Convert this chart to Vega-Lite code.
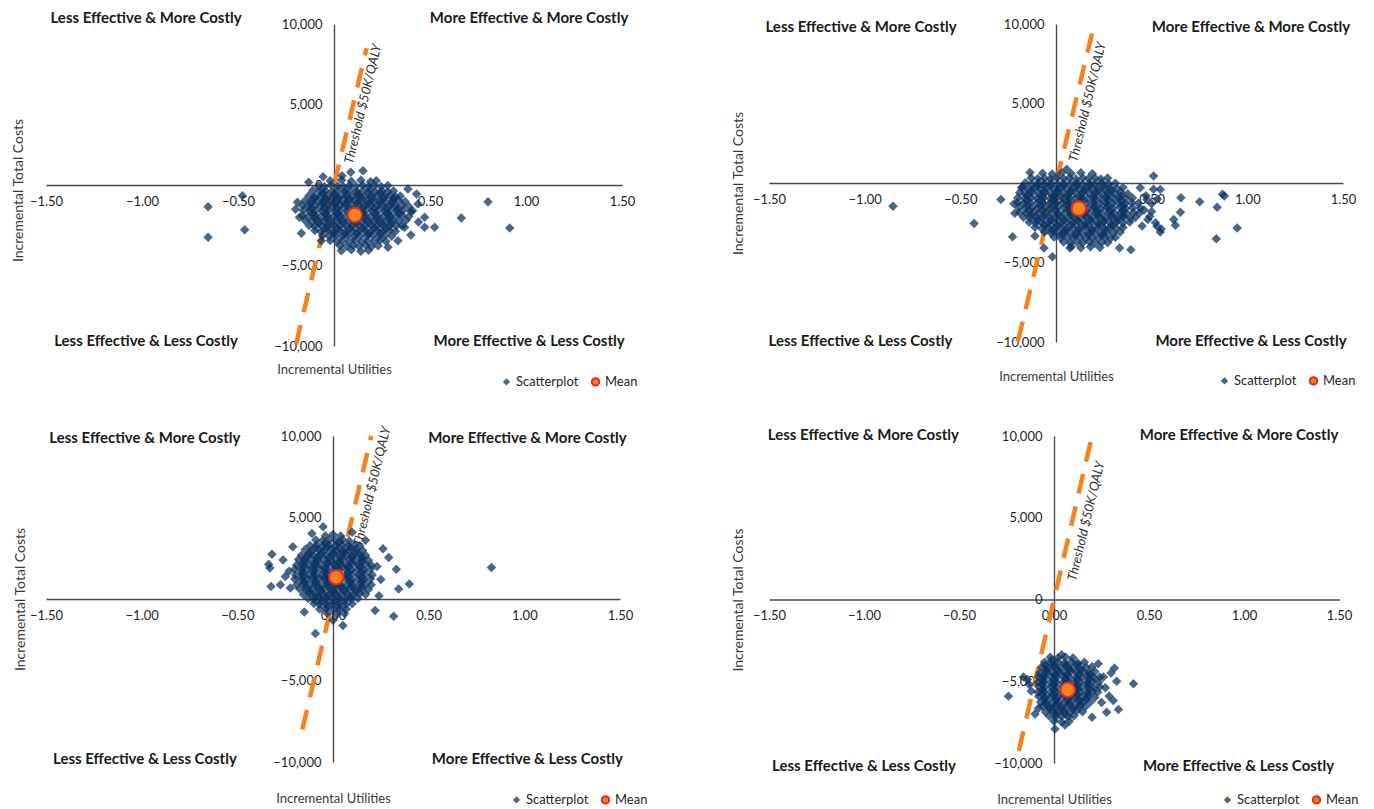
{
"$schema":"https://vega.github.io/schema/vega-lite/v6.json",
"background":"white",
"padding":{"left":11,"top":10,"right":5,"bottom":5},
"config":{
 "view":{"stroke":null},
 "axis":{"labelFont":"Lato","labelFontSize":13,"labelColor":"#1f1f1f","titleFont":"Lato","titleFontSize":13,"titleFontWeight":"normal","titleColor":"#3a3a3a","ticks":false,"grid":false,"domainColor":"#4a4a4a","domainWidth":1.4,"labelFlush":false,"labelOverlap":false,"labelBound":false},
 "legend":{"orient":"none","direction":"horizontal","labelFont":"Lato","labelFontSize":13,"labelColor":"#1f1f1f","symbolStrokeWidth":2,"columnPadding":8,"padding":0,"labelOffset":3,"symbolSize":55}
},
"datasets":{
"s1":[
{"u":-0.02,"c":260},{"u":0.04,"c":310},{"u":0.09,"c":230},{"u":0.14,"c":290},{"u":0.19,"c":200},
{"u":-0.08,"c":-40},{"u":-0.05,"c":-90},{"u":-0.015,"c":-20},{"u":0.02,"c":-70},{"u":0.05,"c":-110},{"u":0.08,"c":-30},{"u":0.115,"c":-80},{"u":0.15,"c":-10},{"u":0.18,"c":-100},{"u":0.21,"c":-50},{"u":0.245,"c":-90},{"u":0.28,"c":-30},
{"u":-0.11,"c":-330},{"u":-0.075,"c":-400},{"u":-0.045,"c":-350},{"u":-0.01,"c":-420},{"u":0.02,"c":-340},{"u":0.055,"c":-390},{"u":0.085,"c":-310},{"u":0.12,"c":-410},{"u":0.15,"c":-360},{"u":0.185,"c":-330},{"u":0.215,"c":-400},{"u":0.25,"c":-350},{"u":0.28,"c":-420},{"u":0.31,"c":-370},
{"u":-0.13,"c":-650},{"u":-0.1,"c":-720},{"u":-0.065,"c":-660},{"u":-0.035,"c":-700},{"u":0,"c":-640},{"u":0.03,"c":-730},{"u":0.065,"c":-670},{"u":0.095,"c":-700},{"u":0.13,"c":-640},{"u":0.16,"c":-720},{"u":0.195,"c":-690},{"u":0.225,"c":-650},{"u":0.26,"c":-710},{"u":0.29,"c":-660},{"u":0.32,"c":-730},{"u":0.345,"c":-680},
{"u":-0.15,"c":-960},{"u":-0.12,"c":-1030},{"u":-0.085,"c":-970},{"u":-0.055,"c":-1010},{"u":-0.02,"c":-950},{"u":0.01,"c":-1040},{"u":0.045,"c":-980},{"u":0.075,"c":-1000},{"u":0.11,"c":-950},{"u":0.14,"c":-1030},{"u":0.175,"c":-970},{"u":0.205,"c":-1010},{"u":0.24,"c":-960},{"u":0.27,"c":-1040},{"u":0.305,"c":-990},{"u":0.335,"c":-950},{"u":0.37,"c":-1020},
{"u":-0.165,"c":-1270},{"u":-0.135,"c":-1330},{"u":-0.1,"c":-1280},{"u":-0.07,"c":-1320},{"u":-0.035,"c":-1260},{"u":-0.005,"c":-1340},{"u":0.03,"c":-1290},{"u":0.06,"c":-1310},{"u":0.095,"c":-1260},{"u":0.125,"c":-1340},{"u":0.16,"c":-1280},{"u":0.19,"c":-1320},{"u":0.225,"c":-1270},{"u":0.255,"c":-1330},{"u":0.29,"c":-1290},{"u":0.32,"c":-1310},{"u":0.355,"c":-1260},{"u":0.39,"c":-1330},
{"u":-0.16,"c":-1580},{"u":-0.125,"c":-1640},{"u":-0.095,"c":-1590},{"u":-0.06,"c":-1630},{"u":-0.03,"c":-1570},{"u":0.005,"c":-1650},{"u":0.035,"c":-1600},{"u":0.07,"c":-1620},{"u":0.1,"c":-1570},{"u":0.135,"c":-1650},{"u":0.165,"c":-1590},{"u":0.2,"c":-1630},{"u":0.23,"c":-1580},{"u":0.265,"c":-1640},{"u":0.295,"c":-1600},{"u":0.33,"c":-1620},{"u":0.36,"c":-1570},{"u":0.4,"c":-1640},
{"u":-0.165,"c":-1890},{"u":-0.135,"c":-1950},{"u":-0.1,"c":-1900},{"u":-0.07,"c":-1940},{"u":-0.035,"c":-1880},{"u":-0.005,"c":-1960},{"u":0.03,"c":-1910},{"u":0.06,"c":-1930},{"u":0.095,"c":-1880},{"u":0.125,"c":-1960},{"u":0.16,"c":-1900},{"u":0.19,"c":-1940},{"u":0.225,"c":-1890},{"u":0.255,"c":-1950},{"u":0.29,"c":-1910},{"u":0.32,"c":-1930},{"u":0.355,"c":-1880},{"u":0.39,"c":-1950},
{"u":-0.15,"c":-2200},{"u":-0.115,"c":-2260},{"u":-0.085,"c":-2210},{"u":-0.05,"c":-2250},{"u":-0.02,"c":-2190},{"u":0.015,"c":-2270},{"u":0.045,"c":-2220},{"u":0.08,"c":-2240},{"u":0.11,"c":-2190},{"u":0.145,"c":-2270},{"u":0.175,"c":-2210},{"u":0.21,"c":-2250},{"u":0.24,"c":-2200},{"u":0.275,"c":-2260},{"u":0.305,"c":-2220},{"u":0.34,"c":-2240},{"u":0.375,"c":-2190},
{"u":-0.13,"c":-2510},{"u":-0.1,"c":-2570},{"u":-0.065,"c":-2520},{"u":-0.035,"c":-2560},{"u":0,"c":-2500},{"u":0.03,"c":-2580},{"u":0.065,"c":-2530},{"u":0.095,"c":-2550},{"u":0.13,"c":-2500},{"u":0.16,"c":-2580},{"u":0.195,"c":-2520},{"u":0.225,"c":-2560},{"u":0.26,"c":-2510},{"u":0.29,"c":-2570},{"u":0.325,"c":-2530},{"u":0.355,"c":-2550},
{"u":-0.1,"c":-2820},{"u":-0.07,"c":-2880},{"u":-0.035,"c":-2830},{"u":-0.005,"c":-2870},{"u":0.03,"c":-2810},{"u":0.06,"c":-2890},{"u":0.095,"c":-2840},{"u":0.125,"c":-2860},{"u":0.16,"c":-2810},{"u":0.19,"c":-2890},{"u":0.225,"c":-2830},{"u":0.255,"c":-2870},{"u":0.29,"c":-2820},{"u":0.32,"c":-2880},
{"u":-0.06,"c":-3130},{"u":-0.025,"c":-3190},{"u":0.005,"c":-3140},{"u":0.04,"c":-3180},{"u":0.07,"c":-3120},{"u":0.105,"c":-3200},{"u":0.135,"c":-3150},{"u":0.17,"c":-3170},{"u":0.2,"c":-3120},{"u":0.235,"c":-3200},{"u":0.265,"c":-3140},{"u":0.3,"c":-3180},
{"u":-0.02,"c":-3440},{"u":0.015,"c":-3500},{"u":0.045,"c":-3450},{"u":0.08,"c":-3490},{"u":0.11,"c":-3430},{"u":0.145,"c":-3510},{"u":0.175,"c":-3460},{"u":0.21,"c":-3480},{"u":0.24,"c":-3430},{"u":0.27,"c":-3500},
{"u":0.03,"c":-3750},{"u":0.065,"c":-3810},{"u":0.1,"c":-3760},{"u":0.13,"c":-3800},{"u":0.165,"c":-3740},{"u":0.195,"c":-3820},{"u":0.23,"c":-3770},
{"u":0.09,"c":-4020},{"u":0.14,"c":-4120},{"u":0.18,"c":-4060},
{"u":-0.06,"c":-510},{"u":0,"c":-540},{"u":0.06,"c":-500},{"u":0.12,"c":-550},{"u":0.18,"c":-520},{"u":0.24,"c":-490},
{"u":-0.1,"c":-820},{"u":-0.04,"c":-860},{"u":0.02,"c":-800},{"u":0.08,"c":-850},{"u":0.14,"c":-810},{"u":0.2,"c":-870},{"u":0.26,"c":-820},{"u":0.31,"c":-840},
{"u":-0.12,"c":-1130},{"u":-0.06,"c":-1170},{"u":0,"c":-1120},{"u":0.06,"c":-1160},{"u":0.12,"c":-1110},{"u":0.18,"c":-1150},{"u":0.24,"c":-1130},{"u":0.3,"c":-1170},
{"u":-0.12,"c":-1440},{"u":-0.05,"c":-1480},{"u":0.015,"c":-1430},{"u":0.08,"c":-1470},{"u":0.15,"c":-1420},{"u":0.21,"c":-1460},{"u":0.27,"c":-1440},{"u":0.33,"c":-1480},
{"u":-0.11,"c":-1760},{"u":-0.045,"c":-1790},{"u":0.02,"c":-1750},{"u":0.085,"c":-1800},{"u":0.15,"c":-1740},{"u":0.215,"c":-1780},{"u":0.28,"c":-1760},{"u":0.34,"c":-1790},
{"u":-0.1,"c":-2070},{"u":-0.04,"c":-2110},{"u":0.025,"c":-2060},{"u":0.09,"c":-2100},{"u":0.155,"c":-2050},{"u":0.22,"c":-2090},{"u":0.285,"c":-2070},
{"u":-0.08,"c":-2380},{"u":-0.015,"c":-2420},{"u":0.05,"c":-2370},{"u":0.115,"c":-2410},{"u":0.18,"c":-2360},{"u":0.245,"c":-2400},{"u":0.3,"c":-2380},
{"u":-0.04,"c":-2690},{"u":0.02,"c":-2730},{"u":0.085,"c":-2680},{"u":0.15,"c":-2720},{"u":0.21,"c":-2670},{"u":0.27,"c":-2710},
{"u":0,"c":-3000},{"u":0.06,"c":-3040},{"u":0.12,"c":-2990},{"u":0.18,"c":-3030},{"u":0.24,"c":-3000},
{"u":-0.656,"c":-1346},{"u":-0.656,"c":-3250},{"u":-0.477,"c":-663},{"u":-0.465,"c":-2774},{"u":0.802,"c":-1035},{"u":0.915,"c":-2670},{"u":0.663,"c":-2050},{"u":0.524,"c":-2630},{"u":0.472,"c":-2630},{"u":0.151,"c":890},{"u":0.087,"c":787},{"u":-0.057,"c":518},{"u":-0.132,"c":166},{"u":0.042,"c":580},{"u":0.22,"c":270},{"u":-0.19,"c":-1077},{"u":-0.18,"c":-2008},{"u":-0.17,"c":-3000},{"u":0.038,"c":-4079},{"u":0.281,"c":-3872},{"u":0.333,"c":-3457},{"u":-0.066,"c":-3457},{"u":0.385,"c":-248},{"u":0.4375,"c":-1180},{"u":0.472,"c":-2008},{"u":0.368,"c":-2630},{"u":0.43,"c":-560},{"u":0.41,"c":-1600},{"u":0.44,"c":-2300},{"u":-0.2,"c":-1500},{"u":0.4,"c":-3100}
],
"s2":[
{"u":-0.07,"c":620},{"u":-0.02,"c":560},{"u":0.03,"c":640},{"u":0.08,"c":580},{"u":0.13,"c":650},{"u":0.19,"c":590},
{"u":-0.13,"c":320},{"u":-0.095,"c":260},{"u":-0.06,"c":300},{"u":-0.03,"c":250},{"u":0.005,"c":330},{"u":0.04,"c":270},{"u":0.07,"c":310},{"u":0.105,"c":240},{"u":0.14,"c":320},{"u":0.17,"c":280},{"u":0.205,"c":300},{"u":0.235,"c":250},{"u":0.27,"c":320},
{"u":-0.16,"c":10},{"u":-0.125,"c":-50},{"u":-0.09,"c":0},{"u":-0.06,"c":-40},{"u":-0.025,"c":20},{"u":0.01,"c":-60},{"u":0.04,"c":-10},{"u":0.075,"c":-30},{"u":0.11,"c":20},{"u":0.14,"c":-60},{"u":0.175,"c":0},{"u":0.205,"c":-40},{"u":0.24,"c":10},{"u":0.275,"c":-50},{"u":0.31,"c":-20},
{"u":-0.18,"c":-300},{"u":-0.145,"c":-360},{"u":-0.11,"c":-310},{"u":-0.08,"c":-350},{"u":-0.045,"c":-290},{"u":-0.01,"c":-370},{"u":0.02,"c":-320},{"u":0.055,"c":-340},{"u":0.09,"c":-290},{"u":0.12,"c":-370},{"u":0.155,"c":-310},{"u":0.185,"c":-350},{"u":0.22,"c":-300},{"u":0.255,"c":-360},{"u":0.285,"c":-320},{"u":0.32,"c":-340},{"u":0.35,"c":-290},
{"u":-0.19,"c":-610},{"u":-0.16,"c":-670},{"u":-0.125,"c":-620},{"u":-0.09,"c":-660},{"u":-0.06,"c":-600},{"u":-0.025,"c":-680},{"u":0.01,"c":-630},{"u":0.04,"c":-650},{"u":0.075,"c":-600},{"u":0.105,"c":-680},{"u":0.14,"c":-620},{"u":0.175,"c":-660},{"u":0.205,"c":-610},{"u":0.24,"c":-670},{"u":0.27,"c":-630},{"u":0.305,"c":-650},{"u":0.34,"c":-600},{"u":0.375,"c":-670},
{"u":-0.2,"c":-920},{"u":-0.165,"c":-980},{"u":-0.13,"c":-930},{"u":-0.1,"c":-970},{"u":-0.065,"c":-910},{"u":-0.03,"c":-990},{"u":0,"c":-940},{"u":0.035,"c":-960},{"u":0.07,"c":-910},{"u":0.1,"c":-990},{"u":0.135,"c":-930},{"u":0.165,"c":-970},{"u":0.2,"c":-920},{"u":0.235,"c":-980},{"u":0.265,"c":-940},{"u":0.3,"c":-960},{"u":0.33,"c":-910},{"u":0.365,"c":-990},{"u":0.4,"c":-940},
{"u":-0.2,"c":-1230},{"u":-0.17,"c":-1290},{"u":-0.135,"c":-1240},{"u":-0.1,"c":-1280},{"u":-0.07,"c":-1220},{"u":-0.035,"c":-1300},{"u":0,"c":-1250},{"u":0.03,"c":-1270},{"u":0.065,"c":-1220},{"u":0.095,"c":-1300},{"u":0.13,"c":-1240},{"u":0.16,"c":-1280},{"u":0.195,"c":-1230},{"u":0.23,"c":-1290},{"u":0.26,"c":-1250},{"u":0.295,"c":-1270},{"u":0.325,"c":-1220},{"u":0.36,"c":-1300},{"u":0.395,"c":-1240},{"u":0.43,"c":-1280},
{"u":-0.195,"c":-1540},{"u":-0.16,"c":-1600},{"u":-0.125,"c":-1550},{"u":-0.095,"c":-1590},{"u":-0.06,"c":-1530},{"u":-0.03,"c":-1610},{"u":0.005,"c":-1560},{"u":0.04,"c":-1580},{"u":0.07,"c":-1530},{"u":0.105,"c":-1610},{"u":0.135,"c":-1550},{"u":0.17,"c":-1590},{"u":0.2,"c":-1540},{"u":0.235,"c":-1600},{"u":0.265,"c":-1560},{"u":0.3,"c":-1580},{"u":0.335,"c":-1530},{"u":0.365,"c":-1610},{"u":0.4,"c":-1550},{"u":0.44,"c":-1590},
{"u":-0.19,"c":-1850},{"u":-0.155,"c":-1910},{"u":-0.12,"c":-1860},{"u":-0.09,"c":-1900},{"u":-0.055,"c":-1840},{"u":-0.02,"c":-1920},{"u":0.01,"c":-1870},{"u":0.045,"c":-1890},{"u":0.075,"c":-1840},{"u":0.11,"c":-1920},{"u":0.14,"c":-1860},{"u":0.175,"c":-1900},{"u":0.21,"c":-1850},{"u":0.24,"c":-1910},{"u":0.275,"c":-1870},{"u":0.305,"c":-1890},{"u":0.34,"c":-1840},{"u":0.37,"c":-1920},{"u":0.405,"c":-1860},{"u":0.435,"c":-1900},
{"u":-0.17,"c":-2160},{"u":-0.135,"c":-2220},{"u":-0.1,"c":-2170},{"u":-0.07,"c":-2210},{"u":-0.035,"c":-2150},{"u":0,"c":-2230},{"u":0.03,"c":-2180},{"u":0.065,"c":-2200},{"u":0.095,"c":-2150},{"u":0.13,"c":-2230},{"u":0.16,"c":-2170},{"u":0.195,"c":-2210},{"u":0.225,"c":-2160},{"u":0.26,"c":-2220},{"u":0.29,"c":-2180},{"u":0.325,"c":-2200},{"u":0.355,"c":-2150},{"u":0.39,"c":-2230},{"u":0.415,"c":-2170},
{"u":-0.14,"c":-2470},{"u":-0.105,"c":-2530},{"u":-0.075,"c":-2480},{"u":-0.04,"c":-2520},{"u":-0.01,"c":-2460},{"u":0.025,"c":-2540},{"u":0.055,"c":-2490},{"u":0.09,"c":-2510},{"u":0.12,"c":-2460},{"u":0.155,"c":-2540},{"u":0.185,"c":-2480},{"u":0.22,"c":-2520},{"u":0.25,"c":-2470},{"u":0.285,"c":-2530},{"u":0.315,"c":-2490},{"u":0.35,"c":-2510},{"u":0.385,"c":-2460},
{"u":-0.11,"c":-2780},{"u":-0.075,"c":-2840},{"u":-0.04,"c":-2790},{"u":-0.01,"c":-2830},{"u":0.025,"c":-2770},{"u":0.055,"c":-2850},{"u":0.09,"c":-2800},{"u":0.12,"c":-2820},{"u":0.155,"c":-2770},{"u":0.185,"c":-2850},{"u":0.22,"c":-2790},{"u":0.25,"c":-2830},{"u":0.285,"c":-2780},{"u":0.315,"c":-2840},{"u":0.35,"c":-2800},
{"u":-0.06,"c":-3090},{"u":-0.025,"c":-3150},{"u":0.005,"c":-3100},{"u":0.04,"c":-3140},{"u":0.07,"c":-3080},{"u":0.105,"c":-3160},{"u":0.135,"c":-3110},{"u":0.17,"c":-3130},{"u":0.2,"c":-3080},{"u":0.235,"c":-3160},{"u":0.265,"c":-3100},{"u":0.3,"c":-3140},{"u":0.335,"c":-3090},
{"u":-0.01,"c":-3400},{"u":0.025,"c":-3460},{"u":0.06,"c":-3410},{"u":0.09,"c":-3450},{"u":0.125,"c":-3390},{"u":0.155,"c":-3470},{"u":0.19,"c":-3420},{"u":0.22,"c":-3440},{"u":0.255,"c":-3390},{"u":0.285,"c":-3470},{"u":0.31,"c":-3420},
{"u":0.04,"c":-3710},{"u":0.075,"c":-3770},{"u":0.11,"c":-3720},{"u":0.14,"c":-3760},{"u":0.175,"c":-3700},{"u":0.205,"c":-3780},{"u":0.24,"c":-3730},{"u":0.27,"c":-3750},
{"u":0.08,"c":-3990},{"u":0.13,"c":-4080},{"u":0.18,"c":-4010},{"u":0.23,"c":-4060},
{"u":-0.1,"c":-160},{"u":-0.03,"c":-190},{"u":0.04,"c":-150},{"u":0.11,"c":-180},{"u":0.18,"c":-140},{"u":0.25,"c":-170},
{"u":-0.13,"c":-470},{"u":-0.06,"c":-500},{"u":0.01,"c":-460},{"u":0.08,"c":-490},{"u":0.15,"c":-450},{"u":0.22,"c":-480},{"u":0.29,"c":-470},
{"u":-0.15,"c":-780},{"u":-0.08,"c":-810},{"u":-0.01,"c":-770},{"u":0.06,"c":-800},{"u":0.13,"c":-760},{"u":0.2,"c":-790},{"u":0.27,"c":-780},{"u":0.34,"c":-810},
{"u":-0.15,"c":-1090},{"u":-0.08,"c":-1120},{"u":-0.01,"c":-1080},{"u":0.06,"c":-1110},{"u":0.13,"c":-1070},{"u":0.2,"c":-1100},{"u":0.27,"c":-1090},{"u":0.34,"c":-1120},
{"u":-0.15,"c":-1400},{"u":-0.08,"c":-1430},{"u":-0.01,"c":-1390},{"u":0.06,"c":-1420},{"u":0.13,"c":-1380},{"u":0.2,"c":-1410},{"u":0.27,"c":-1400},{"u":0.35,"c":-1430},
{"u":-0.14,"c":-1710},{"u":-0.07,"c":-1740},{"u":0,"c":-1700},{"u":0.07,"c":-1730},{"u":0.14,"c":-1690},{"u":0.21,"c":-1720},{"u":0.28,"c":-1710},{"u":0.35,"c":-1740},
{"u":-0.13,"c":-2020},{"u":-0.06,"c":-2050},{"u":0.01,"c":-2010},{"u":0.08,"c":-2040},{"u":0.15,"c":-2000},{"u":0.22,"c":-2030},{"u":0.29,"c":-2020},{"u":0.35,"c":-2050},
{"u":-0.1,"c":-2330},{"u":-0.03,"c":-2360},{"u":0.04,"c":-2320},{"u":0.11,"c":-2350},{"u":0.18,"c":-2310},{"u":0.25,"c":-2340},{"u":0.32,"c":-2330},
{"u":-0.06,"c":-2640},{"u":0.01,"c":-2670},{"u":0.08,"c":-2630},{"u":0.15,"c":-2660},{"u":0.22,"c":-2620},{"u":0.29,"c":-2650},
{"u":-0.02,"c":-2950},{"u":0.05,"c":-2980},{"u":0.12,"c":-2940},{"u":0.19,"c":-2970},{"u":0.26,"c":-2950},
{"u":0.03,"c":-3260},{"u":0.1,"c":-3290},{"u":0.17,"c":-3250},{"u":0.24,"c":-3280},
{"u":0.44,"c":-300},{"u":0.47,"c":-800},{"u":0.5,"c":-1300},{"u":0.46,"c":-1700},{"u":0.49,"c":-2100},{"u":0.52,"c":-2500},{"u":0.45,"c":-2700},{"u":0.55,"c":-2900},{"u":0.51,"c":-400},{"u":0.53,"c":-1000},{"u":0.5,"c":-1800},{"u":0.48,"c":-2300},
{"u":-0.852,"c":-1456},{"u":-0.428,"c":-2553},{"u":-0.288,"c":-1034},{"u":-0.227,"c":-3376},{"u":-0.11,"c":-3333},{"u":-0.063,"c":-4093},{"u":-0.019,"c":-4641},{"u":-0.136,"c":654},{"u":-0.175,"c":-253},{"u":0.056,"c":865},{"u":0.51,"c":443},{"u":0.391,"c":-4198},{"u":0.653,"c":-928},{"u":0.751,"c":-1181},{"u":0.842,"c":-1519},{"u":0.88,"c":-823},{"u":0.947,"c":-2827},{"u":0.838,"c":-3502},{"u":0.65,"c":-1835},{"u":0.615,"c":-2300},{"u":0.624,"c":-2658},{"u":0.545,"c":-3080},{"u":0.528,"c":-2721},{"u":0.475,"c":-1034},{"u":0.545,"c":-401},{"u":0.332,"c":-4093},{"u":0.073,"c":-4093},{"u":0.87,"c":-700},{"u":-0.22,"c":-1300},{"u":-0.215,"c":-1900}
],
"s3":[
{"u":-0.04,"c":3880},{"u":0,"c":3950},{"u":0.04,"c":3870},
{"u":-0.09,"c":3620},{"u":-0.055,"c":3570},{"u":-0.02,"c":3640},{"u":0.015,"c":3580},{"u":0.05,"c":3630},{"u":0.085,"c":3560},
{"u":-0.12,"c":3280},{"u":-0.085,"c":3330},{"u":-0.05,"c":3270},{"u":-0.02,"c":3320},{"u":0.015,"c":3260},{"u":0.05,"c":3340},{"u":0.08,"c":3290},{"u":0.115,"c":3310},{"u":0.14,"c":3260},
{"u":-0.145,"c":3030},{"u":-0.11,"c":2970},{"u":-0.075,"c":3020},{"u":-0.045,"c":2980},{"u":-0.01,"c":3040},{"u":0.02,"c":2960},{"u":0.055,"c":3010},{"u":0.09,"c":2990},{"u":0.12,"c":3040},{"u":0.155,"c":2970},
{"u":-0.165,"c":2680},{"u":-0.13,"c":2730},{"u":-0.1,"c":2670},{"u":-0.065,"c":2720},{"u":-0.03,"c":2660},{"u":0,"c":2740},{"u":0.035,"c":2690},{"u":0.07,"c":2710},{"u":0.1,"c":2660},{"u":0.135,"c":2740},{"u":0.17,"c":2680},
{"u":-0.18,"c":2430},{"u":-0.15,"c":2370},{"u":-0.115,"c":2420},{"u":-0.08,"c":2380},{"u":-0.05,"c":2440},{"u":-0.015,"c":2360},{"u":0.015,"c":2410},{"u":0.05,"c":2390},{"u":0.085,"c":2440},{"u":0.115,"c":2360},{"u":0.15,"c":2420},{"u":0.185,"c":2380},
{"u":-0.19,"c":2080},{"u":-0.16,"c":2130},{"u":-0.125,"c":2070},{"u":-0.095,"c":2120},{"u":-0.06,"c":2060},{"u":-0.025,"c":2140},{"u":0.005,"c":2090},{"u":0.04,"c":2110},{"u":0.07,"c":2060},{"u":0.105,"c":2140},{"u":0.135,"c":2080},{"u":0.17,"c":2120},{"u":0.2,"c":2070},
{"u":-0.2,"c":1830},{"u":-0.165,"c":1770},{"u":-0.135,"c":1820},{"u":-0.1,"c":1780},{"u":-0.07,"c":1840},{"u":-0.035,"c":1760},{"u":0,"c":1810},{"u":0.03,"c":1790},{"u":0.065,"c":1840},{"u":0.095,"c":1760},{"u":0.13,"c":1820},{"u":0.16,"c":1780},{"u":0.195,"c":1830},
{"u":-0.195,"c":1480},{"u":-0.16,"c":1530},{"u":-0.125,"c":1470},{"u":-0.095,"c":1520},{"u":-0.06,"c":1460},{"u":-0.03,"c":1540},{"u":0.005,"c":1490},{"u":0.04,"c":1510},{"u":0.07,"c":1460},{"u":0.105,"c":1540},{"u":0.135,"c":1480},{"u":0.17,"c":1520},{"u":0.205,"c":1470},
{"u":-0.2,"c":1230},{"u":-0.165,"c":1170},{"u":-0.135,"c":1220},{"u":-0.1,"c":1180},{"u":-0.07,"c":1240},{"u":-0.035,"c":1160},{"u":0,"c":1210},{"u":0.03,"c":1190},{"u":0.065,"c":1240},{"u":0.095,"c":1160},{"u":0.13,"c":1220},{"u":0.16,"c":1180},{"u":0.195,"c":1230},
{"u":-0.19,"c":880},{"u":-0.155,"c":930},{"u":-0.12,"c":870},{"u":-0.09,"c":920},{"u":-0.055,"c":860},{"u":-0.025,"c":940},{"u":0.01,"c":890},{"u":0.04,"c":910},{"u":0.075,"c":860},{"u":0.105,"c":940},{"u":0.14,"c":880},{"u":0.17,"c":920},{"u":0.2,"c":870},
{"u":-0.175,"c":630},{"u":-0.14,"c":570},{"u":-0.11,"c":620},{"u":-0.075,"c":580},{"u":-0.045,"c":640},{"u":-0.01,"c":560},{"u":0.02,"c":610},{"u":0.055,"c":590},{"u":0.085,"c":640},{"u":0.12,"c":560},{"u":0.15,"c":620},{"u":0.185,"c":580},
{"u":-0.155,"c":280},{"u":-0.12,"c":330},{"u":-0.09,"c":270},{"u":-0.055,"c":320},{"u":-0.025,"c":260},{"u":0.01,"c":340},{"u":0.04,"c":290},{"u":0.075,"c":310},{"u":0.105,"c":260},{"u":0.14,"c":340},{"u":0.17,"c":280},
{"u":-0.13,"c":30},{"u":-0.1,"c":-30},{"u":-0.065,"c":20},{"u":-0.035,"c":-20},{"u":0,"c":40},{"u":0.03,"c":-40},{"u":0.065,"c":10},{"u":0.095,"c":-10},{"u":0.13,"c":30},
{"u":-0.1,"c":-280},{"u":-0.07,"c":-330},{"u":-0.035,"c":-270},{"u":0,"c":-320},{"u":0.03,"c":-260},{"u":0.065,"c":-340},{"u":0.1,"c":-290},
{"u":-0.07,"c":-620},{"u":-0.035,"c":-570},{"u":0,"c":-630},{"u":0.035,"c":-580},{"u":0.07,"c":-610},
{"u":-0.03,"c":-880},{"u":0.02,"c":-940},{"u":0.06,"c":-900},
{"u":-0.04,"c":3440},{"u":0.03,"c":3470},
{"u":-0.09,"c":3140},{"u":-0.03,"c":3170},{"u":0.03,"c":3130},{"u":0.09,"c":3160},
{"u":-0.12,"c":2840},{"u":-0.06,"c":2870},{"u":0,"c":2830},{"u":0.06,"c":2860},{"u":0.12,"c":2840},
{"u":-0.14,"c":2540},{"u":-0.08,"c":2570},{"u":-0.02,"c":2530},{"u":0.04,"c":2560},{"u":0.1,"c":2540},{"u":0.15,"c":2570},
{"u":-0.15,"c":2240},{"u":-0.09,"c":2270},{"u":-0.03,"c":2230},{"u":0.03,"c":2260},{"u":0.09,"c":2240},{"u":0.15,"c":2270},
{"u":-0.16,"c":1940},{"u":-0.1,"c":1970},{"u":-0.04,"c":1930},{"u":0.02,"c":1960},{"u":0.08,"c":1940},{"u":0.14,"c":1970},
{"u":-0.16,"c":1640},{"u":-0.1,"c":1670},{"u":-0.04,"c":1630},{"u":0.02,"c":1660},{"u":0.08,"c":1640},{"u":0.15,"c":1670},
{"u":-0.16,"c":1340},{"u":-0.1,"c":1370},{"u":-0.04,"c":1330},{"u":0.02,"c":1360},{"u":0.08,"c":1340},{"u":0.15,"c":1370},
{"u":-0.15,"c":1040},{"u":-0.09,"c":1070},{"u":-0.03,"c":1030},{"u":0.03,"c":1060},{"u":0.09,"c":1040},{"u":0.15,"c":1070},
{"u":-0.14,"c":740},{"u":-0.08,"c":770},{"u":-0.02,"c":730},{"u":0.04,"c":760},{"u":0.1,"c":740},{"u":0.15,"c":770},
{"u":-0.12,"c":440},{"u":-0.06,"c":470},{"u":0,"c":430},{"u":0.06,"c":460},{"u":0.12,"c":440},
{"u":-0.09,"c":140},{"u":-0.03,"c":170},{"u":0.03,"c":130},{"u":0.09,"c":160},
{"u":-0.06,"c":-140},{"u":0,"c":-170},{"u":0.06,"c":-130},
{"u":-0.03,"c":-440},{"u":0.03,"c":-470},
{"u":0.828,"c":1931},{"u":0.399,"c":915},{"u":0.343,"c":610},{"u":0.317,"c":-1057},{"u":0.331,"c":1829},{"u":0.291,"c":2541},{"u":0.261,"c":3089},{"u":-0.092,"c":-2114},{"u":0.052,"c":-1626},{"u":-0.15,"c":-793},{"u":-0.052,"c":4431},{"u":-0.11,"c":4024},{"u":-0.319,"c":2744},{"u":-0.336,"c":2134},{"u":-0.324,"c":772},{"u":-0.261,"c":2398},{"u":-0.249,"c":1382},{"u":-0.275,"c":874},{"u":-0.223,"c":671},{"u":0.22,"c":-700},{"u":0.24,"c":200},{"u":0.25,"c":1200},{"u":0.23,"c":2000},{"u":-0.23,"c":1700},{"u":-0.21,"c":3200},{"u":0.1,"c":4100},{"u":0.17,"c":3600},{"u":0,"c":-1300},{"u":-0.33,"c":1900}
],
"s4":[
{"u":-0.02,"c":-3530},{"u":0.02,"c":-3580},{"u":0.06,"c":-3520},{"u":0.1,"c":-3570},
{"u":-0.05,"c":-3830},{"u":-0.015,"c":-3880},{"u":0.02,"c":-3820},{"u":0.055,"c":-3870},{"u":0.09,"c":-3810},{"u":0.125,"c":-3890},{"u":0.16,"c":-3840},
{"u":-0.065,"c":-4130},{"u":-0.03,"c":-4180},{"u":0,"c":-4120},{"u":0.035,"c":-4170},{"u":0.07,"c":-4110},{"u":0.1,"c":-4190},{"u":0.135,"c":-4140},{"u":0.17,"c":-4160},{"u":0.2,"c":-4110},
{"u":-0.075,"c":-4480},{"u":-0.04,"c":-4420},{"u":-0.01,"c":-4470},{"u":0.025,"c":-4430},{"u":0.055,"c":-4490},{"u":0.09,"c":-4410},{"u":0.12,"c":-4460},{"u":0.155,"c":-4440},{"u":0.185,"c":-4490},{"u":0.215,"c":-4410},
{"u":-0.08,"c":-4730},{"u":-0.05,"c":-4780},{"u":-0.015,"c":-4720},{"u":0.015,"c":-4770},{"u":0.05,"c":-4710},{"u":0.08,"c":-4790},{"u":0.115,"c":-4740},{"u":0.145,"c":-4760},{"u":0.18,"c":-4710},{"u":0.21,"c":-4790},{"u":0.24,"c":-4740},
{"u":-0.085,"c":-5080},{"u":-0.055,"c":-5020},{"u":-0.02,"c":-5070},{"u":0.01,"c":-5030},{"u":0.045,"c":-5090},{"u":0.075,"c":-5010},{"u":0.11,"c":-5060},{"u":0.14,"c":-5040},{"u":0.175,"c":-5090},{"u":0.205,"c":-5010},{"u":0.235,"c":-5060},
{"u":-0.08,"c":-5330},{"u":-0.05,"c":-5380},{"u":-0.015,"c":-5320},{"u":0.015,"c":-5370},{"u":0.05,"c":-5310},{"u":0.08,"c":-5390},{"u":0.115,"c":-5340},{"u":0.145,"c":-5360},{"u":0.18,"c":-5310},{"u":0.21,"c":-5390},{"u":0.24,"c":-5340},
{"u":-0.085,"c":-5680},{"u":-0.055,"c":-5620},{"u":-0.02,"c":-5670},{"u":0.01,"c":-5630},{"u":0.045,"c":-5690},{"u":0.075,"c":-5610},{"u":0.11,"c":-5660},{"u":0.14,"c":-5640},{"u":0.175,"c":-5690},{"u":0.205,"c":-5610},{"u":0.23,"c":-5660},
{"u":-0.08,"c":-5930},{"u":-0.045,"c":-5980},{"u":-0.015,"c":-5920},{"u":0.02,"c":-5970},{"u":0.05,"c":-5910},{"u":0.085,"c":-5990},{"u":0.115,"c":-5940},{"u":0.15,"c":-5960},{"u":0.18,"c":-5910},{"u":0.215,"c":-5990},
{"u":-0.07,"c":-6280},{"u":-0.04,"c":-6220},{"u":-0.005,"c":-6270},{"u":0.025,"c":-6230},{"u":0.06,"c":-6290},{"u":0.09,"c":-6210},{"u":0.125,"c":-6260},{"u":0.155,"c":-6240},{"u":0.19,"c":-6290},
{"u":-0.06,"c":-6530},{"u":-0.025,"c":-6580},{"u":0.005,"c":-6520},{"u":0.04,"c":-6570},{"u":0.07,"c":-6510},{"u":0.105,"c":-6590},{"u":0.135,"c":-6540},{"u":0.165,"c":-6560},
{"u":-0.045,"c":-6880},{"u":-0.01,"c":-6820},{"u":0.02,"c":-6870},{"u":0.055,"c":-6830},{"u":0.085,"c":-6890},{"u":0.12,"c":-6810},{"u":0.15,"c":-6860},
{"u":-0.025,"c":-7130},{"u":0.01,"c":-7180},{"u":0.04,"c":-7120},{"u":0.075,"c":-7170},{"u":0.105,"c":-7110},
{"u":0,"c":-7430},{"u":0.04,"c":-7490},{"u":0.08,"c":-7440},
{"u":0,"c":-3990},{"u":0.06,"c":-4020},{"u":0.12,"c":-3980},
{"u":-0.04,"c":-4290},{"u":0.02,"c":-4320},{"u":0.08,"c":-4280},{"u":0.14,"c":-4310},
{"u":-0.05,"c":-4590},{"u":0.01,"c":-4620},{"u":0.07,"c":-4580},{"u":0.13,"c":-4610},{"u":0.19,"c":-4590},
{"u":-0.06,"c":-4890},{"u":0,"c":-4920},{"u":0.06,"c":-4880},{"u":0.12,"c":-4910},{"u":0.18,"c":-4890},
{"u":-0.06,"c":-5190},{"u":0,"c":-5220},{"u":0.06,"c":-5180},{"u":0.12,"c":-5210},{"u":0.18,"c":-5190},
{"u":-0.06,"c":-5490},{"u":0,"c":-5520},{"u":0.06,"c":-5480},{"u":0.12,"c":-5510},{"u":0.18,"c":-5490},
{"u":-0.06,"c":-5790},{"u":0,"c":-5820},{"u":0.06,"c":-5780},{"u":0.12,"c":-5810},{"u":0.18,"c":-5790},
{"u":-0.05,"c":-6090},{"u":0.01,"c":-6120},{"u":0.07,"c":-6080},{"u":0.13,"c":-6110},{"u":0.17,"c":-6090},
{"u":-0.04,"c":-6390},{"u":0.02,"c":-6420},{"u":0.08,"c":-6380},{"u":0.14,"c":-6410},
{"u":-0.02,"c":-6690},{"u":0.04,"c":-6720},{"u":0.1,"c":-6680},
{"u":0.01,"c":-6990},{"u":0.06,"c":-7020},
{"u":-0.24,"c":-5910},{"u":0.04,"c":-3374},{"u":0.233,"c":-3926},{"u":0.318,"c":-4192},{"u":0.418,"c":-5153},{"u":0.339,"c":-6728},{"u":0.277,"c":-6892},{"u":0.058,"c":-7669},{"u":0.005,"c":-7914},{"u":-0.082,"c":-6646},{"u":-0.161,"c":-4744},{"u":0.312,"c":-6176},{"u":0.26,"c":-4744},{"u":-0.012,"c":-3722},{"u":-0.13,"c":-5200},{"u":-0.12,"c":-5600},{"u":0.27,"c":-5400},{"u":0.29,"c":-5900},{"u":0.25,"c":-6300},{"u":0.2,"c":-7200},{"u":-0.1,"c":-7000},{"u":0.33,"c":-5000},{"u":0.3,"c":-4500},{"u":-0.14,"c":-4900},{"u":-0.047,"c":-4030}
]
},
"concat":[
{"width":576,"height":322,
 "encoding":{
  "x":{"field":"u","type":"quantitative","scale":{"domain":[-1.5,1.5],"nice":false,"zero":false},"axis":{"orient":"bottom","offset":-161,"values":[-1.5,-1,-0.5,0,0.5,1,1.5],"format":".2f","labelPadding":10,"title":"Incremental Utilities","titleY":178}},
  "y":{"field":"c","type":"quantitative","scale":{"domain":[-10000,10000],"nice":false,"zero":false},"axis":{"orient":"left","offset":-288,"values":[-10000,-5000,0,5000,10000],"format":",.0f","labelPadding":12,"title":"Incremental Total Costs","titleFontSize":14,"titleX":-309,"titleY":166}}
 },
 "layer":[
  {"data":{"values":[{"u":-0.198,"c":-9900},{"u":0.17,"c":8500}]},"mark":{"type":"line","color":"#F5821F","strokeWidth":4.5,"strokeDash":[20,13],"clip":false},"encoding":{}},
  {"data":{"values":[{"u":0.152,"c":5030,"t":"Threshold $50K/QALY"}]},"mark":{"type":"text","angle":283.5,"font":"Lato","fontStyle":"italic","fontSize":13,"color":"#333333","clip":false},"encoding":{"text":{"field":"t"}}},
  {"data":{"values":[{"u":-0.979,"c":10373,"t":"Less Effective & More Costly"},{"u":1.016,"c":10373,"t":"More Effective & More Costly"},{"u":-0.979,"c":-9689,"t":"Less Effective & Less Costly"},{"u":1.016,"c":-9689,"t":"More Effective & Less Costly"}]},"mark":{"type":"text","font":"Lato","fontWeight":"bold","fontSize":15,"color":"#1a1a1a","clip":false},"encoding":{"text":{"field":"t"}}},
  {"data":{"name":"s1"},"mark":{"type":"point","filled":true,"size":90,"strokeWidth":0,"opacity":1},"encoding":{
   "fill":{"datum":"Scatterplot","type":"nominal","scale":{"domain":["Scatterplot","Mean"],"range":["rgba(8,50,98,0.74)","#F58220"]},"legend":{"legendX":454,"legendY":351}},
   "shape":{"datum":"Scatterplot","type":"nominal","scale":{"domain":["Scatterplot","Mean"],"range":["diamond","circle"]},"legend":{"legendX":454,"legendY":351}},
   "stroke":{"datum":"Scatterplot","type":"nominal","scale":{"domain":["Scatterplot","Mean"],"range":["rgba(0,0,0,0)","#E8281E"]},"legend":{"legendX":454,"legendY":351}}}},
  {"data":{"values":[{"u":0.108,"c":-1863}]},"mark":{"type":"point","filled":true,"size":210,"strokeWidth":2,"opacity":1},"encoding":{
   "fill":{"datum":"Mean","type":"nominal","scale":{"domain":["Scatterplot","Mean"],"range":["rgba(8,50,98,0.74)","#F58220"]},"legend":{"legendX":454,"legendY":351}},
   "shape":{"datum":"Mean","type":"nominal","scale":{"domain":["Scatterplot","Mean"],"range":["diamond","circle"]},"legend":{"legendX":454,"legendY":351}},
   "stroke":{"datum":"Mean","type":"nominal","scale":{"domain":["Scatterplot","Mean"],"range":["rgba(0,0,0,0)","#E8281E"]},"legend":{"legendX":454,"legendY":351}}}}
 ]},
{"width":574,"height":318,
 "encoding":{
  "x":{"field":"u","type":"quantitative","scale":{"domain":[-1.5,1.5],"nice":false,"zero":false},"axis":{"orient":"bottom","offset":-159,"values":[-1.5,-1,-0.5,0,0.5,1,1.5],"format":".2f","labelPadding":10,"title":"Incremental Utilities","titleY":187}},
  "y":{"field":"c","type":"quantitative","scale":{"domain":[-10000,10000],"nice":false,"zero":false},"axis":{"orient":"left","offset":-287,"values":[-10000,-5000,0,5000,10000],"format":",.0f","labelPadding":12,"title":"Incremental Total Costs","titleFontSize":14,"titleX":-311}}
 },
 "layer":[
  {"data":{"values":[{"u":-0.199,"c":-9950},{"u":0.188,"c":9400}]},"mark":{"type":"line","color":"#F5821F","strokeWidth":4.5,"strokeDash":[20,13],"clip":false},"encoding":{}},
  {"data":{"values":[{"u":0.165,"c":5090,"t":"Threshold $50K/QALY"}]},"mark":{"type":"text","angle":283.5,"font":"Lato","fontStyle":"italic","fontSize":13,"color":"#333333","clip":false},"encoding":{"text":{"field":"t"}}},
  {"data":{"values":[{"u":-1.019,"c":9811,"t":"Less Effective & More Costly"},{"u":1.019,"c":9811,"t":"More Effective & More Costly"},{"u":-1.022,"c":-9937,"t":"Less Effective & Less Costly"},{"u":1.019,"c":-9937,"t":"More Effective & Less Costly"}]},"mark":{"type":"text","font":"Lato","fontWeight":"bold","fontSize":15,"color":"#1a1a1a","clip":false},"encoding":{"text":{"field":"t"}}},
  {"data":{"name":"s2"},"mark":{"type":"point","filled":true,"size":90,"strokeWidth":0,"opacity":1},"encoding":{
   "fill":{"datum":"Scatterplot","type":"nominal","scale":{"domain":["Scatterplot","Mean"],"range":["rgba(8,50,98,0.74)","#F58220"]},"legend":{"legendX":449,"legendY":350}},
   "shape":{"datum":"Scatterplot","type":"nominal","scale":{"domain":["Scatterplot","Mean"],"range":["diamond","circle"]},"legend":{"legendX":449,"legendY":350}},
   "stroke":{"datum":"Scatterplot","type":"nominal","scale":{"domain":["Scatterplot","Mean"],"range":["rgba(0,0,0,0)","#E8281E"]},"legend":{"legendX":449,"legendY":350}}}},
  {"data":{"values":[{"u":0.119,"c":-1603}]},"mark":{"type":"point","filled":true,"size":210,"strokeWidth":2,"opacity":1},"encoding":{
   "fill":{"datum":"Mean","type":"nominal","scale":{"domain":["Scatterplot","Mean"],"range":["rgba(8,50,98,0.74)","#F58220"]},"legend":{"legendX":449,"legendY":350}},
   "shape":{"datum":"Mean","type":"nominal","scale":{"domain":["Scatterplot","Mean"],"range":["diamond","circle"]},"legend":{"legendX":449,"legendY":350}},
   "stroke":{"datum":"Mean","type":"nominal","scale":{"domain":["Scatterplot","Mean"],"range":["rgba(0,0,0,0)","#E8281E"]},"legend":{"legendX":449,"legendY":350}}}}
 ]},
{"width":574,"height":326,
 "encoding":{
  "x":{"field":"u","type":"quantitative","scale":{"domain":[-1.5,1.5],"nice":false,"zero":false},"axis":{"orient":"bottom","offset":-163,"values":[-1.5,-1,-0.5,0,0.5,1,1.5],"format":".2f","labelPadding":10,"title":"Incremental Utilities","titleY":193}},
  "y":{"field":"c","type":"quantitative","scale":{"domain":[-10000,10000],"nice":false,"zero":false},"axis":{"orient":"left","offset":-287,"values":[-10000,-5000,0,5000,10000],"format":",.0f","labelPadding":12,"title":"Incremental Total Costs","titleFontSize":14,"titleX":-306}}
 },
 "layer":[
  {"data":{"values":[{"u":-0.16,"c":-8000},{"u":0.2,"c":10000}]},"mark":{"type":"line","color":"#F5821F","strokeWidth":4.5,"strokeDash":[20,13],"clip":false},"encoding":{}},
  {"data":{"values":[{"u":0.205,"c":6900,"t":"Threshold $50K/QALY"}]},"mark":{"type":"text","angle":283.5,"font":"Lato","fontStyle":"italic","fontSize":13,"color":"#333333","clip":false},"encoding":{"text":{"field":"t"}}},
  {"data":{"values":[{"u":-0.983,"c":9877,"t":"Less Effective & More Costly"},{"u":1.016,"c":9877,"t":"More Effective & More Costly"},{"u":-0.983,"c":-9816,"t":"Less Effective & Less Costly"},{"u":1.016,"c":-9816,"t":"More Effective & Less Costly"}]},"mark":{"type":"text","font":"Lato","fontWeight":"bold","fontSize":15,"color":"#1a1a1a","clip":false},"encoding":{"text":{"field":"t"}}},
  {"data":{"name":"s3"},"mark":{"type":"point","filled":true,"size":90,"strokeWidth":0,"opacity":1},"encoding":{
   "fill":{"datum":"Scatterplot","type":"nominal","scale":{"domain":["Scatterplot","Mean"],"range":["rgba(8,50,98,0.74)","#F58220"]},"legend":{"legendX":464,"legendY":357}},
   "shape":{"datum":"Scatterplot","type":"nominal","scale":{"domain":["Scatterplot","Mean"],"range":["diamond","circle"]},"legend":{"legendX":464,"legendY":357}},
   "stroke":{"datum":"Scatterplot","type":"nominal","scale":{"domain":["Scatterplot","Mean"],"range":["rgba(0,0,0,0)","#E8281E"]},"legend":{"legendX":464,"legendY":357}}}},
  {"data":{"values":[{"u":0.017,"c":1341}]},"mark":{"type":"point","filled":true,"size":210,"strokeWidth":2,"opacity":1},"encoding":{
   "fill":{"datum":"Mean","type":"nominal","scale":{"domain":["Scatterplot","Mean"],"range":["rgba(8,50,98,0.74)","#F58220"]},"legend":{"legendX":464,"legendY":357}},
   "shape":{"datum":"Mean","type":"nominal","scale":{"domain":["Scatterplot","Mean"],"range":["diamond","circle"]},"legend":{"legendX":464,"legendY":357}},
   "stroke":{"datum":"Mean","type":"nominal","scale":{"domain":["Scatterplot","Mean"],"range":["rgba(0,0,0,0)","#E8281E"]},"legend":{"legendX":464,"legendY":357}}}}
 ]},
{"width":570,"height":327,
 "encoding":{
  "x":{"field":"u","type":"quantitative","scale":{"domain":[-1.5,1.5],"nice":false,"zero":false},"axis":{"orient":"bottom","offset":-163.5,"values":[-1.5,-1,-0.5,0,0.5,1,1.5],"format":".2f","labelPadding":10,"title":"Incremental Utilities","titleY":193.5}},
  "y":{"field":"c","type":"quantitative","scale":{"domain":[-10000,10000],"nice":false,"zero":false},"axis":{"orient":"left","offset":-285,"values":[-10000,-5000,0,5000,10000],"format":",.0f","labelPadding":12,"title":"Incremental Total Costs","titleFontSize":14,"titleX":-309}}
 },
 "layer":[
  {"data":{"values":[{"u":-0.185,"c":-9250},{"u":0.195,"c":9750}]},"mark":{"type":"line","color":"#F5821F","strokeWidth":4.5,"strokeDash":[20,13],"clip":false},"encoding":{}},
  {"data":{"values":[{"u":0.17,"c":4790,"t":"Threshold $50K/QALY"}]},"mark":{"type":"text","angle":283.5,"font":"Lato","fontStyle":"italic","fontSize":13,"color":"#333333","clip":false},"encoding":{"text":{"field":"t"}}},
  {"data":{"values":[{"u":-1.003,"c":10061,"t":"Less Effective & More Costly"},{"u":0.974,"c":10061,"t":"More Effective & More Costly"},{"u":-1.0,"c":-10183,"t":"Less Effective & Less Costly"},{"u":0.971,"c":-10183,"t":"More Effective & Less Costly"}]},"mark":{"type":"text","font":"Lato","fontWeight":"bold","fontSize":15,"color":"#1a1a1a","clip":false},"encoding":{"text":{"field":"t"}}},
  {"data":{"name":"s4"},"mark":{"type":"point","filled":true,"size":90,"strokeWidth":0,"opacity":1},"encoding":{
   "fill":{"datum":"Scatterplot","type":"nominal","scale":{"domain":["Scatterplot","Mean"],"range":["rgba(8,50,98,0.74)","#F58220"]},"legend":{"legendX":452,"legendY":357}},
   "shape":{"datum":"Scatterplot","type":"nominal","scale":{"domain":["Scatterplot","Mean"],"range":["diamond","circle"]},"legend":{"legendX":452,"legendY":357}},
   "stroke":{"datum":"Scatterplot","type":"nominal","scale":{"domain":["Scatterplot","Mean"],"range":["rgba(0,0,0,0)","#E8281E"]},"legend":{"legendX":452,"legendY":357}}}},
  {"data":{"values":[{"u":0.072,"c":-5521}]},"mark":{"type":"point","filled":true,"size":210,"strokeWidth":2,"opacity":1},"encoding":{
   "fill":{"datum":"Mean","type":"nominal","scale":{"domain":["Scatterplot","Mean"],"range":["rgba(8,50,98,0.74)","#F58220"]},"legend":{"legendX":452,"legendY":357}},
   "shape":{"datum":"Mean","type":"nominal","scale":{"domain":["Scatterplot","Mean"],"range":["diamond","circle"]},"legend":{"legendX":452,"legendY":357}},
   "stroke":{"datum":"Mean","type":"nominal","scale":{"domain":["Scatterplot","Mean"],"range":["rgba(0,0,0,0)","#E8281E"]},"legend":{"legendX":452,"legendY":357}}}}
 ]}
],
"columns":2,
"spacing":{"row":90,"column":147},
"bounds":"flush",
"resolve":{"scale":{"fill":"independent","shape":"independent","stroke":"independent"},"legend":{"fill":"independent","shape":"independent","stroke":"independent"}}
}
